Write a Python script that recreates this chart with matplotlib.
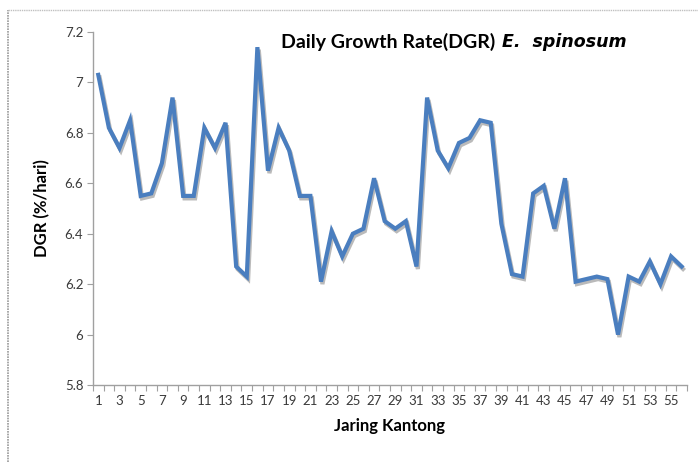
import numpy as np
import matplotlib
matplotlib.use("Agg")
import matplotlib.pyplot as plt
import matplotlib.patheffects as pe
from matplotlib.ticker import FuncFormatter

# ----------------------- Data -----------------------
jaring = np.arange(1, 57)
dgr = [7.03, 6.82, 6.74, 6.85, 6.55, 6.56, 6.68, 6.94, 6.55, 6.55,
       6.82, 6.74, 6.84, 6.27, 6.23, 7.14, 6.65, 6.82, 6.73, 6.55,
       6.55, 6.21, 6.41, 6.31, 6.40, 6.42, 6.62, 6.45, 6.42, 6.45,
       6.27, 6.94, 6.73, 6.66, 6.76, 6.78, 6.85, 6.84, 6.44, 6.24,
       6.23, 6.56, 6.59, 6.42, 6.62, 6.21, 6.22, 6.23, 6.22, 6.00,
       6.23, 6.21, 6.29, 6.20, 6.31, 6.27]
y_ticks = [5.8, 6.0, 6.2, 6.4, 6.6, 6.8, 7.0, 7.2]
x_labels = list(range(1, 57, 2))

plt.rcParams["font.family"] = ["Lato", "DejaVu Sans"]

fig = plt.figure(figsize=(6.98, 4.66), dpi=100)
ax = fig.add_axes([0.1332, 0.1738, 0.851, 0.7575])

line_col = "#4a7ebf"
ax.plot(jaring, dgr, color=line_col, lw=3.0, solid_joinstyle="miter",
        path_effects=[pe.SimpleLineShadow(offset=(1.0, -1.8), shadow_color="#666666", alpha=0.45),
                      pe.Normal()])

ax.set_xlim(0.5, 56.5)
ax.set_ylim(5.8, 7.2)

# y axis
ax.set_yticks(y_ticks)
ax.yaxis.set_major_formatter(FuncFormatter(lambda v, p: f"{v:.1f}".rstrip("0").rstrip(".")))
ax.tick_params(axis="y", direction="out", length=4, color="#a0a0a0", labelsize=9.5,
               labelcolor="#3a3a3a", pad=3)

# x axis: tick marks on category boundaries, labels on odd categories
ax.set_xticks(np.arange(0.5, 57, 1.0))
ax.set_xticklabels([])
ax.set_xticks(x_labels, minor=True)
ax.set_xticklabels([str(v) for v in x_labels], minor=True)
ax.tick_params(axis="x", which="major", direction="out", length=4, color="#a0a0a0")
ax.tick_params(axis="x", which="minor", length=0, labelsize=9.5, labelcolor="#3a3a3a", pad=7)

for s in ["top", "right"]:
    ax.spines[s].set_visible(False)
for s in ["left", "bottom"]:
    ax.spines[s].set_color("#a0a0a0")
    ax.spines[s].set_linewidth(1.0)

ax.set_ylabel("DGR (%/hari)", fontsize=12, fontweight="bold", labelpad=10)
ax.set_xlabel("Jaring Kantong", fontsize=12, fontweight="bold", labelpad=8)

# title, mixed bold / bold italic (italic part is wider in the original)
fig.text(0.709, 0.91, "Daily Growth Rate(DGR)", ha="right", va="center",
         fontsize=14, fontweight="bold")
fig.text(0.719, 0.91, "E.  spinosum", ha="left", va="center", family="DejaVu Sans",
         fontsize=12.5, fontweight="bold", fontstyle="italic")

# outer chart frame
fig.add_artist(plt.Line2D([0.011, 0.011], [0.008, 0.978], color="#9a9a9a", lw=1.2, ls=(0, (1, 0.6))))
fig.add_artist(plt.Line2D([0.011, 1.0], [0.978, 0.978], color="#c0c0c0", lw=1.0, ls=(0, (1, 0.6))))

fig.savefig("out.png", dpi=100)
